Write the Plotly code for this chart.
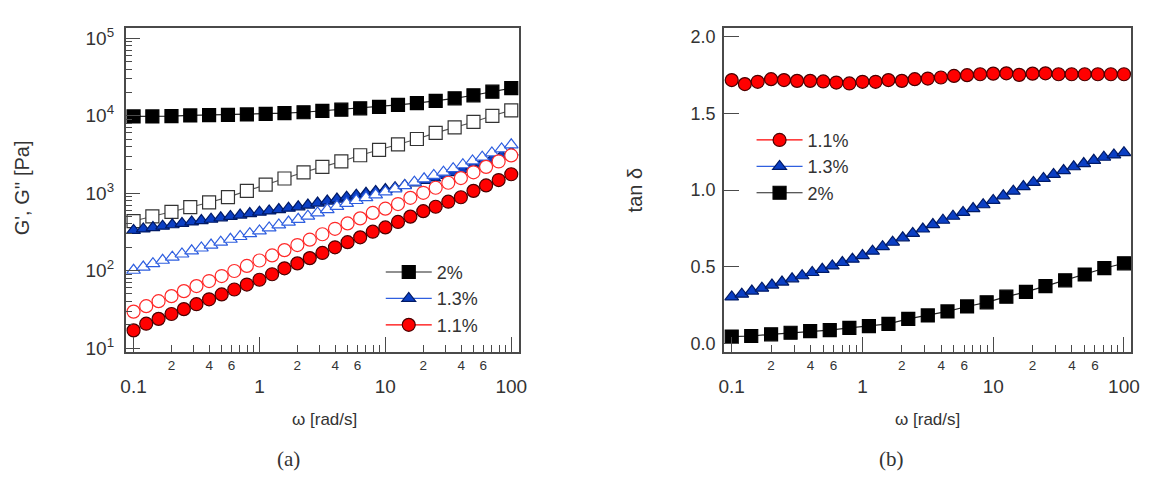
import plotly.graph_objects as go

# ---------------- data ----------------
omega_21 = [0.1, 0.141, 0.2, 0.282, 0.398, 0.562, 0.794, 1.12, 1.58, 2.24, 3.16,
            4.47, 6.31, 8.91, 12.6, 17.8, 25.1, 35.5, 50.1, 70.8, 100]
omega_31 = [0.1, 0.126, 0.158, 0.2, 0.251, 0.316, 0.398, 0.501, 0.631, 0.794, 1,
            1.26, 1.58, 2, 2.51, 3.16, 3.98, 5.01, 6.31, 7.94, 10,
            12.6, 15.8, 20, 25.1, 31.6, 39.8, 50.1, 63.1, 79.4, 100]
omega_40 = [0.1, 0.1194, 0.1425, 0.1701, 0.2031, 0.2424, 0.2894, 0.3455, 0.4125, 0.4924,
            0.5878, 0.7017, 0.8377, 1.0, 1.194, 1.425, 1.701, 2.031, 2.424, 2.894,
            3.455, 4.125, 4.924, 5.878, 7.017, 8.377, 10, 11.94, 14.25, 17.01,
            20.31, 24.24, 28.94, 34.55, 41.25, 49.24, 58.78, 70.17, 83.77, 100]

# 2 %
Gp_2 = [9800, 9800, 9900, 10100, 10200, 10300, 10400, 10600, 10800, 11100, 11600,
        12000, 12500, 13000, 13800, 14600, 15600, 16800, 18400, 20500, 22800]
Gpp_2 = [437, 501, 575, 661, 759, 891, 1072, 1288, 1549, 1862, 2188,
         2570, 3090, 3631, 4266, 5012, 6026, 7079, 8318, 10000, 11749]
tan_2 = [0.047, 0.051, 0.062, 0.072, 0.083, 0.089, 0.104, 0.115, 0.13, 0.162, 0.185,
         0.211, 0.243, 0.27, 0.307, 0.338, 0.375, 0.413, 0.451, 0.492, 0.524]

# 1.3 %
Gp_13 = [331, 345, 360, 375, 391, 407, 425, 443, 461, 481,
         501, 522, 545, 568, 590, 615, 641, 667, 703, 746,
         791, 839, 889, 942, 995, 1054, 1114, 1180, 1259, 1358,
         1462, 1574, 1698, 1841, 2023, 2228, 2449, 2729, 3041, 3388]
Gpp_13 = [101, 111, 123, 136, 149, 164, 180, 196, 214, 233,
          254, 276, 300, 326, 356, 389, 424, 460, 505, 557,
          614, 675, 738, 805, 876, 954, 1039, 1136, 1250, 1389,
          1535, 1694, 1871, 2075, 2330, 2613, 2924, 3313, 3737, 4215]
tan_13 = [0.305, 0.323, 0.343, 0.362, 0.382, 0.402, 0.423, 0.443, 0.464, 0.485,
          0.507, 0.529, 0.551, 0.574, 0.603, 0.632, 0.661, 0.690, 0.718, 0.747,
          0.776, 0.804, 0.830, 0.855, 0.880, 0.905, 0.933, 0.963, 0.993, 1.023,
          1.050, 1.076, 1.102, 1.127, 1.152, 1.173, 1.194, 1.214, 1.229, 1.244]

# 1.1 %
Gp_11 = [16.9, 20.6, 23.8, 27.5, 31.8, 36.8, 42.6, 49.2, 57.0, 66.1, 76.2,
         89.7, 107, 124, 145, 169, 200, 233, 269, 318, 361,
         425, 498, 586, 668, 776, 887, 1072, 1259, 1479, 1758]
Gpp_11 = [29.5, 34.7, 40.3, 46.8, 54.3, 63.1, 73.3, 85.1, 98.9, 115, 135,
          157, 184, 214, 251, 295, 347, 407, 473, 556, 631,
          724, 871, 1012, 1175, 1365, 1567, 1862, 2188, 2570, 3076]
tan_11 = [1.716, 1.69, 1.705, 1.722, 1.716, 1.711, 1.711, 1.707, 1.70, 1.694, 1.705,
          1.705, 1.716, 1.711, 1.722, 1.726, 1.733, 1.743, 1.748, 1.754, 1.758,
          1.760, 1.75, 1.758, 1.76, 1.754, 1.754, 1.754, 1.754, 1.754, 1.754]

x_major_vals = [0.1, 1, 10, 100]
x_major_text = ["0.1", "1", "10", "100"]
x_minor_vals = [0.2, 0.3, 0.4, 0.5, 0.6, 0.7, 0.8, 0.9,
                2, 3, 4, 5, 6, 7, 8, 9,
                20, 30, 40, 50, 60, 70, 80, 90]
x_minor_label_vals = [0.2, 0.4, 0.6, 2, 4, 6, 20, 40, 60]
x_minor_label_text = ["2", "4", "6", "2", "4", "6", "2", "4", "6"]
y_log_vals = [10, 100, 1000, 10000, 100000]
y_log_text = ["10<sup>1</sup>", "10<sup>2</sup>", "10<sup>3</sup>",
              "10<sup>4</sup>", "10<sup>5</sup>"]
y_log_minor = [m * d for d in [10, 100, 1000, 10000] for m in range(2, 10)]
y_tan_vals = [0.0, 0.5, 1.0, 1.5, 2.0]
y_tan_text = ["0.0", "0.5", "1.0", "1.5", "2.0"]

# ---------------- styles ----------------
FONT = "Liberation Sans"
SERIF = "Liberation Serif"
AXC = "#4a4a4a"
TXC = "#333333"
RED, RED_E = "#ff0000", "#4a0000"
BLU, BLU_E, BLU_L = "#0b3fc4", "#001a66", "#2f5fe0"
BLK = "#000000"

fig = go.Figure()

def add(x, y, xa, ya, symbol, fill, edge, line, size, name=None, legend=None, group=None):
    fig.add_trace(go.Scatter(
        x=x, y=y, xaxis=xa, yaxis=ya, mode="lines+markers",
        line=dict(color=line, width=1.2),
        marker=dict(symbol=symbol, size=size, color=fill,
                    line=dict(color=edge, width=1.2)),
        name=name if name else "", showlegend=name is not None,
        legend=legend if legend else "legend",
        legendgroup=group, hoverinfo="skip"))

# left panel
add(omega_21, Gp_2, "x", "y", "square", BLK, BLK, "#222222", 13, "2%", "legend", "a2")
add(omega_21, Gpp_2, "x", "y", "square", "white", "#333333", "#555555", 13)
add(omega_40, Gp_13, "x", "y", "triangle-up", BLU, BLU_E, BLU_L, 12, "1.3%", "legend", "a13")
add(omega_40, Gpp_13, "x", "y", "triangle-up", "white", BLU_L, BLU_L, 12)
add(omega_31, Gp_11, "x", "y", "circle", RED, RED_E, RED, 13, "1.1%", "legend", "a11")
add(omega_31, Gpp_11, "x", "y", "circle", "white", "#ff2a2a", "#ff2a2a", 13)

# right panel
add(omega_31, tan_11, "x2", "y2", "circle", RED, RED_E, RED, 13, "1.1%", "legend2", "b11")
add(omega_40, tan_13, "x2", "y2", "triangle-up", BLU, BLU_E, BLU_L, 12, "1.3%", "legend2", "b13")
add(omega_21, tan_2, "x2", "y2", "square", BLK, BLK, "#222222", 13, "2%", "legend2", "b2")

# helper traces (draw nothing) so the minor-label axes get rendered
fig.add_trace(go.Scatter(x=omega_21[:1], y=Gp_2[:1], xaxis="x3", yaxis="y",
                         mode="none", showlegend=False, hoverinfo="skip"))
fig.add_trace(go.Scatter(x=omega_21[:1], y=tan_2[:1], xaxis="x4", yaxis="y2",
                         mode="none", showlegend=False, hoverinfo="skip"))

W, H = 1164, 493
def px(x): return x / W
def py(y): return 1 - y / H

xdomL = [px(122), px(520)]
xdomR = [px(727), px(1139)]
ydom = [py(356), py(26)]

frame = dict(showline=True, linecolor=AXC, linewidth=1.5, mirror=True,
             showgrid=False, zeroline=False, ticks="inside",
             tickcolor=AXC, tickwidth=1.3)

def xmajor(domain, rng, anchor):
    return dict(frame, type="log", domain=domain, range=rng, anchor=anchor,
                tickmode="array", tickvals=x_major_vals, ticktext=x_major_text,
                ticklen=15, tickfont=dict(family=FONT, size=19, color=TXC),
                ticklabelstandoff=17,
                minor=dict(tickmode="array", tickvals=x_minor_vals, ticks="inside",
                           ticklen=7, tickcolor=AXC, tickwidth=1.3))

def xminorlab(rng, over, anchor):
    return dict(type="log", overlaying=over, anchor=anchor, range=rng, side="bottom",
                showline=False, showgrid=False, zeroline=False, ticks="",
                tickmode="array", tickvals=x_minor_label_vals, ticktext=x_minor_label_text,
                tickfont=dict(family=FONT, size=13.5, color=TXC), ticklabelstandoff=4)

xrL = [-1.063, 2.063]
xrR = [-1.06, 2.056]

def ann(text, x, y, size, family=FONT, angle=0):
    return dict(text=text, x=px(x), y=py(y), xref="paper", yref="paper",
                xanchor="center", yanchor="middle", textangle=angle,
                showarrow=False, font=dict(family=family, size=size, color=TXC))

fig.update_layout(
    width=W, height=H, margin=dict(l=0, r=0, t=0, b=0),
    paper_bgcolor="white", plot_bgcolor="white",
    font=dict(family=FONT, color=TXC),
    xaxis=xmajor(xdomL, xrL, "y"),
    xaxis2=xmajor(xdomR, xrR, "y2"),
    xaxis3=xminorlab(xrL, "x", "y"),
    xaxis4=xminorlab(xrR, "x2", "y2"),
    yaxis=dict(frame, type="log", domain=ydom, range=[0.955, 5.14], anchor="x",
               tickmode="array", tickvals=y_log_vals, ticktext=y_log_text,
               ticklen=15, tickfont=dict(family=FONT, size=19, color=TXC),
               ticklabelstandoff=6,
               minor=dict(tickmode="array", tickvals=y_log_minor, ticks="inside",
                          ticklen=7, tickcolor=AXC, tickwidth=1.3)),
    yaxis2=dict(frame, domain=ydom, range=[-0.05, 2.058], anchor="x2",
                tickmode="array", tickvals=y_tan_vals, ticktext=y_tan_text,
                ticklen=15, tickfont=dict(family=FONT, size=18, color=TXC),
                ticklabelstandoff=3),
    legend=dict(x=px(380), y=py(256.5), xanchor="left", yanchor="top",
                bgcolor="rgba(0,0,0,0)", itemwidth=46, tracegroupgap=0,
                font=dict(family=FONT, size=18, color=TXC), traceorder="grouped"),
    legend2=dict(x=px(755), y=py(122), xanchor="left", yanchor="top",
                 bgcolor="rgba(0,0,0,0)", itemwidth=46, tracegroupgap=0,
                 font=dict(family=FONT, size=18, color=TXC), traceorder="grouped"),
    annotations=[
        ann("G', G'' [Pa]", 17, 189, 20, angle=-90),
        ann("tan δ", 637, 191, 20, angle=-90),
        ann("ω [rad/s]", 323, 425, 17),
        ann("ω [rad/s]", 933, 425, 17),
        ann("(a)", 287, 466, 21, family=SERIF),
        ann("(b)", 897, 466, 21, family=SERIF),
    ],
)

fig.write_html("out.html")
